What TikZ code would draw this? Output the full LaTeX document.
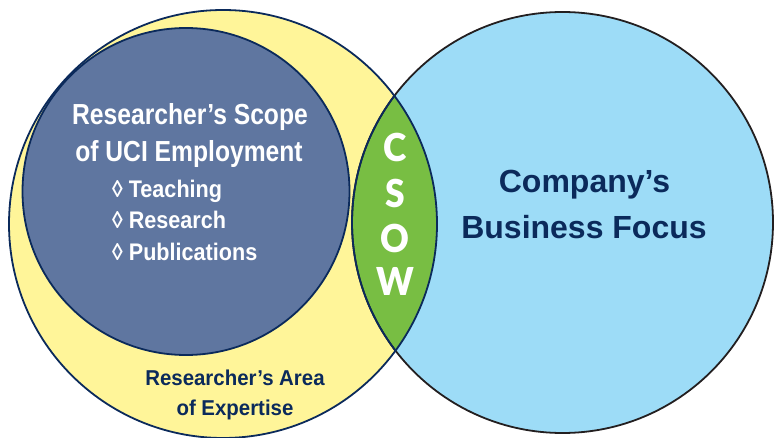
\documentclass[tikz,border=0pt]{standalone}
\usepackage{fontspec}
\setmainfont{Liberation Sans}
\newfontfamily\titlefont[FakeStretch=0.85]{Liberation Sans Bold}
\newfontfamily\itemfont[FakeStretch=0.9]{Liberation Sans Bold}
\newfontfamily\navyfont{Liberation Sans Bold}
\newfontfamily\smallnavyfont[FakeStretch=0.95]{Liberation Sans Bold}
\IfFontExistsTF{Lato Black}
  {\newfontfamily\heavyfont[FakeStretch=0.92]{Lato Black}}
  {\newfontfamily\heavyfont[FakeStretch=0.8]{DejaVu Sans Bold}}
\definecolor{yellowfill}{RGB}{255,245,153}
\definecolor{bluefill}{RGB}{157,220,247}
\definecolor{darkfill}{RGB}{95,118,160}
\definecolor{greenfill}{RGB}{120,190,67}
\definecolor{navy}{RGB}{11,42,91}
\definecolor{outlineblack}{RGB}{35,31,32}
\tikzset{
  outl/.style={line width=1.8pt},
  whitetitle/.style={text=white, font=\titlefont\fontsize{29}{31}\selectfont, anchor=base, inner sep=0pt},
  whiteitem/.style={text=white, font=\itemfont\fontsize{24}{26}\selectfont, anchor=base west, inner sep=0pt},
  navytitle/.style={text=navy, font=\navyfont\fontsize{32}{34}\selectfont, anchor=base, inner sep=0pt},
  navysmall/.style={text=navy, font=\smallnavyfont\fontsize{21.5}{23}\selectfont, anchor=base, inner sep=0pt},
  lensletter/.style={text=white, font=\heavyfont\fontsize{38.5}{40}\selectfont, anchor=center, inner sep=0pt}
}
\begin{document}
\begin{tikzpicture}[x=1pt,y=-1pt]
\useasboundingbox (0,0) rectangle (775,438);
% centres
\coordinate (Y) at (223,224);
\coordinate (B) at (562.5,222.5);
\coordinate (D) at (186,191.5);
% fills
\fill[yellowfill] (Y) circle (214pt);
\fill[bluefill] (B) circle (210.5pt);
\begin{scope}
  \clip (Y) circle (214pt);
  \fill[greenfill] (B) circle (210.5pt);
\end{scope}
% outlines
\draw[outl, outlineblack] (B) circle (210.5pt);
\draw[outl, navy] (Y) circle (214pt);
\begin{scope}
  \clip (Y) circle (214pt);
  \draw[outl, navy] (B) circle (210.5pt);
\end{scope}
% inner dark circle
\fill[darkfill] (D) circle (163.5pt);
\draw[outl, navy] (D) circle (163.5pt);
% texts
\node[whitetitle] (t1) at (190,125) {Researcher’s Scope};
\node[whitetitle] (t2) at (189,162) {of UCI Employment};
\node[whiteitem] (i1) at (112,197) {◊ Teaching};
\node[whiteitem] (i2) at (112,228) {◊ Research};
\node[whiteitem] (i3) at (112,260) {◊ Publications};
\node[navytitle] (c1) at (584.5,193) {Company’s};
\node[navytitle] (c2) at (584,238) {Business Focus};
\node[navysmall] (a1) at (235,385) {Researcher’s Area};
\node[navysmall] (a2) at (235,415) {of Expertise};
\node[lensletter] (lc) at (395,147) {C};
\node[lensletter] (ls) at (395,193) {S};
\node[lensletter] (lo) at (395,238) {O};
\node[lensletter] (lw) at (395,281) {W};
\end{tikzpicture}
\end{document}
